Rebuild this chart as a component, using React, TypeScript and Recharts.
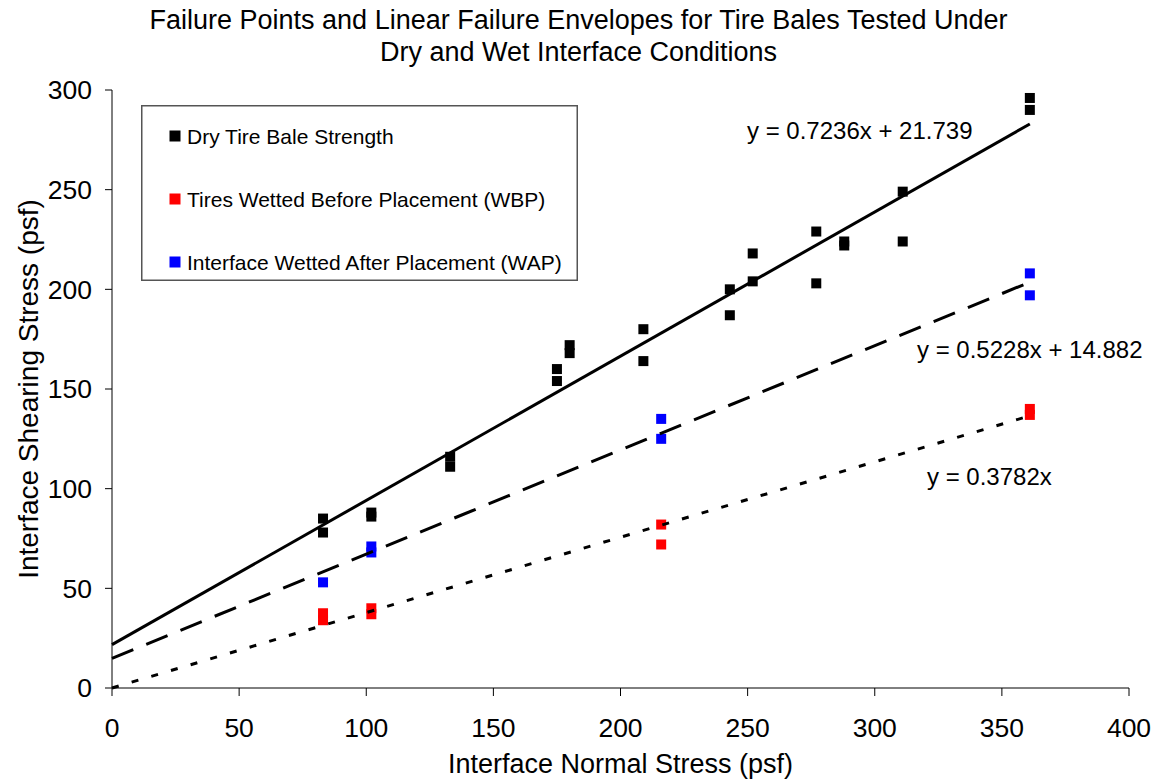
import { ScatterChart, Scatter, XAxis, YAxis, Legend } from 'recharts';

const FONT = '"Liberation Sans", Arial, Helvetica, sans-serif';

const xTicks = [0, 50, 100, 150, 200, 250, 300, 350, 400];
const yTicks = [0, 50, 100, 150, 200, 250, 300];

// failure points (normal stress, shearing stress in psf)
const dryNormal = [83, 83, 102, 102, 133, 133, 175, 175, 180, 180, 209, 209, 243, 243, 252, 252, 277, 277, 288, 288, 311, 311, 361, 361];
const dryShear = [85, 78, 88, 86, 116, 111, 160, 154, 172, 168, 180, 164, 200, 187, 218, 204, 229, 203, 224, 222, 249, 224, 296, 290];

const wbpNormal = [83, 83, 102, 102, 216, 216, 361, 361];
const wbpShear = [37.5, 34, 40, 37, 82, 72, 140, 137];

const wapNormal = [83, 102, 102, 216, 216, 361, 361];
const wapShear = [53, 71, 68, 135, 125, 208, 197];

// envelope end points (x = 0 and x = 361)
const dryFitNormal = [0, 361];
const dryFitShear = [21.739, 282.96];
const wapFitNormal = [0, 361];
const wapFitShear = [14.882, 203.61];
const wbpFitNormal = [0, 361];
const wbpFitShear = [0, 136.53];

const seriesNames = [
  'Dry Tire Bale Strength',
  'Tires Wetted Before Placement (WBP)',
  'Interface Wetted After Placement (WAP)',
];
const seriesColors = ['#000000', '#ff0000', '#0000ff'];

const equations = [
  { text: 'y = 0.7236x + 21.739', x: 747, y: 139 },
  { text: 'y = 0.5228x + 14.882', x: 917, y: 358 },
  { text: 'y = 0.3782x', x: 927, y: 485 },
];

const toPoints = (xs: number[], ys: number[]) => xs.map((x, i) => ({ x, y: ys[i] }));

const dryPoints = toPoints(dryNormal, dryShear);
const wbpPoints = toPoints(wbpNormal, wbpShear);
const wapPoints = toPoints(wapNormal, wapShear);
const dryFit = toPoints(dryFitNormal, dryFitShear);
const wapFit = toPoints(wapFitNormal, wapFitShear);
const wbpFit = toPoints(wbpFitNormal, wbpFitShear);

const SquareMarker = (props: any) => {
  const { cx, cy, fill } = props;
  if (cx == null || cy == null) return <g />;
  return <rect x={cx - 5} y={cy - 5} width={10} height={10} fill={fill} />;
};

const NoMarker = () => <g />;

const renderLegend = (props: any) => {
  const payload = (props.payload || []).filter((p: any) => p.type !== 'none');
  const items = seriesNames.map((name, i) => {
    const found = payload.find((p: any) => p.value === name);
    return { name, color: found?.color || seriesColors[i] };
  });
  return (
    <svg width={437} height={176} style={{ display: 'block' }}>
      <rect x={0.75} y={0.75} width={435.5} height={174.5} fill="#fff" stroke="#555" strokeWidth={1.5} />
      {items.map((it, i) => (
        <g key={it.name}>
          <rect x={28.5} y={25.5 + i * 63} width={11} height={11} fill={it.color} />
          <text x={46} y={38.5 + i * 63} fontSize={21} fontFamily={FONT} fill="#000">
            {it.name}
          </text>
        </g>
      ))}
    </svg>
  );
};

export default function App() {
  return (
    <div style={{ position: 'absolute', left: 0, top: 0, width: 1157, height: 781, background: '#fff', fontFamily: FONT }}>
      <ScatterChart width={1157} height={781} margin={{ top: 90, right: 28, bottom: 0, left: 0 }}>
        <XAxis
          type="number"
          dataKey="x"
          domain={[0, 400]}
          ticks={xTicks}
          interval={0}
          height={93}
          tickSize={8}
          tickMargin={22}
          axisLine={{ stroke: '#000', strokeWidth: 1 }}
          tickLine={{ stroke: '#000', strokeWidth: 1 }}
          tick={{ fill: '#000', fontSize: 26.5, fontFamily: FONT }}
        />
        <YAxis
          type="number"
          dataKey="y"
          domain={[0, 300]}
          ticks={yTicks}
          interval={0}
          width={112}
          tickSize={7}
          tickMargin={13}
          axisLine={{ stroke: '#000', strokeWidth: 1 }}
          tickLine={{ stroke: '#000', strokeWidth: 1 }}
          tick={{ fill: '#000', fontSize: 26.5, fontFamily: FONT }}
        />
        <Legend
          layout="vertical"
          align="center"
          verticalAlign="middle"
          content={renderLegend}
          wrapperStyle={{ left: 141, top: 105, width: 437, height: 176 }}
        />
        <Scatter name={seriesNames[0]} data={dryPoints} fill={seriesColors[0]} shape={SquareMarker} isAnimationActive={false} />
        <Scatter name={seriesNames[1]} data={wbpPoints} fill={seriesColors[1]} shape={SquareMarker} isAnimationActive={false} />
        <Scatter name={seriesNames[2]} data={wapPoints} fill={seriesColors[2]} shape={SquareMarker} isAnimationActive={false} />
        <Scatter
          name="dry fit"
          data={dryFit}
          fill="#000"
          legendType="none"
          shape={NoMarker}
          line={{ stroke: '#000', strokeWidth: 3 }}
          isAnimationActive={false}
        />
        <Scatter
          name="wap fit"
          data={wapFit}
          fill="#000"
          legendType="none"
          shape={NoMarker}
          line={{ stroke: '#000', strokeWidth: 3, strokeDasharray: '23 14' }}
          isAnimationActive={false}
        />
        <Scatter
          name="wbp fit"
          data={wbpFit}
          fill="#000"
          legendType="none"
          shape={NoMarker}
          line={{ stroke: '#000', strokeWidth: 3, strokeDasharray: '7 13.5' }}
          isAnimationActive={false}
        />
      </ScatterChart>

      {/* title, axis titles and envelope equations */}
      <svg
        width={1157}
        height={781}
        style={{ position: 'absolute', left: 0, top: 0, pointerEvents: 'none' }}
        fontFamily={FONT}
      >
        <text x={578.5} y={29.3} textAnchor="middle" fontSize={27} fill="#000">
          Failure Points and Linear Failure Envelopes for Tire Bales Tested Under
        </text>
        <text x={578.5} y={60.5} textAnchor="middle" fontSize={27} fill="#000">
          Dry and Wet Interface Conditions
        </text>
        <text x={620.5} y={773} textAnchor="middle" fontSize={27} fill="#000">
          Interface Normal Stress (psf)
        </text>
        <text transform="translate(38,389) rotate(-90)" textAnchor="middle" fontSize={28} fill="#000">
          Interface Shearing Stress (psf)
        </text>
        {equations.map((eq) => (
          <text key={eq.text} x={eq.x} y={eq.y} fontSize={24} fill="#000">
            {eq.text}
          </text>
        ))}
      </svg>
    </div>
  );
}
